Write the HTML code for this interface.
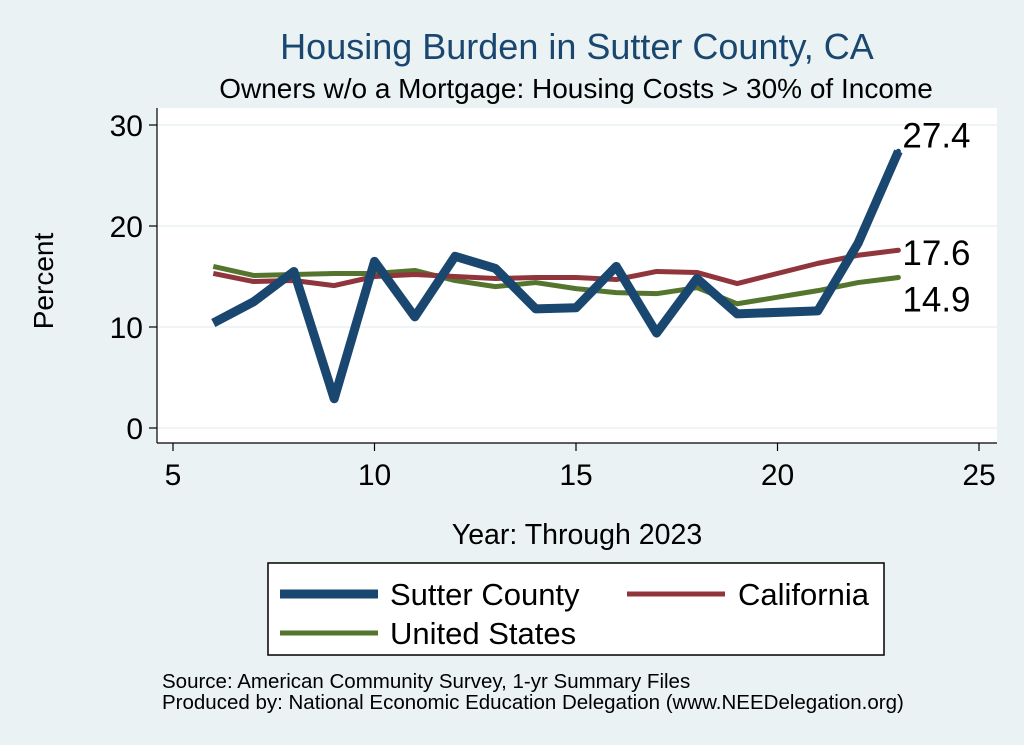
<!DOCTYPE html>
<html><head><meta charset="utf-8"><style>
body{margin:0;background:#eaf2f3;}
svg{display:block;font-family:"Liberation Sans",sans-serif;}
</style></head><body>
<svg width="1024" height="745">
<rect x="0" y="0" width="1024" height="745" fill="#eaf2f3"/>
<rect x="157" y="108" width="840" height="335" fill="#fff"/>
<text x="577" y="59" text-anchor="middle" font-size="36" fill="#1a476f">Housing Burden in Sutter County, CA</text>
<text x="576" y="98" text-anchor="middle" font-size="28" fill="#000">Owners w/o a Mortgage: Housing Costs &gt; 30% of Income</text>
<g id="grid"></g><g id="axes"></g><g id="series"></g>
<text x="53" y="281" text-anchor="middle" font-size="28" transform="rotate(-90 53 281)">Percent</text>
<text x="577" y="544" text-anchor="middle" font-size="28.5">Year: Through 2023</text>
<g>
<rect x="268" y="563" width="616" height="92" fill="#fff" stroke="#000" stroke-width="1.5"/>
<line x1="280" y1="594" x2="378" y2="594" stroke="#1a476f" stroke-width="9"/>
<text x="390" y="605" font-size="31">Sutter County</text>
<line x1="627" y1="594" x2="725" y2="594" stroke="#90353b" stroke-width="5"/>
<text x="738" y="605" font-size="31">California</text>
<line x1="280" y1="633" x2="378" y2="633" stroke="#55752f" stroke-width="5"/>
<text x="390" y="644" font-size="31">United States</text>
</g>
<text x="162" y="688" font-size="20.5">Source: American Community Survey, 1-yr Summary Files</text>
<text x="162" y="709" font-size="20.5">Produced by: National Economic Education Delegation (www.NEEDelegation.org)</text>
</svg>
<script>
const years=[6,7,8,9,10,11,12,13,14,15,16,17,18,19,21,22,23];
const sutter=[10.4,12.5,15.5,2.9,16.5,11.0,17.0,15.8,11.8,11.9,16.0,9.4,14.8,11.3,11.6,18.3,27.4];
const california=[15.3,14.5,14.6,14.1,15.0,15.2,15.0,14.8,14.9,14.9,14.7,15.5,15.4,14.3,16.3,17.1,17.6];
const us=[16.0,15.1,15.2,15.3,15.3,15.6,14.6,14.0,14.4,13.8,13.4,13.3,13.9,12.3,13.6,14.4,14.9];
const xTicks=[5,10,15,20,25];
const yTicks=[0,10,20,30];
const ns="http://www.w3.org/2000/svg";
const X=v=>173+(v-5)*40.3;
const Y=v=>428-v*10.1;
function mk(t,a,p){const e=document.createElementNS(ns,t);for(const k in a)e.setAttribute(k,a[k]);p.appendChild(e);return e;}
const grid=document.getElementById('grid'),axes=document.getElementById('axes'),ser=document.getElementById('series');
yTicks.forEach(t=>{
 const g=mk('line',{x1:157,x2:997,y1:Y(t),y2:Y(t),stroke:'#eaf2f3','stroke-width':1.5},grid);
 
 
 const k=mk('line',{x1:149,x2:157,y1:Y(t),y2:Y(t),stroke:'#000','stroke-width':1.2},axes);
 
 
 const l=mk('text',{x:143,y:Y(t)+11,'text-anchor':'end','font-size':30},axes);l.textContent=t;
 
 
});
xTicks.forEach(t=>{
 const k=mk('line',{x1:X(t),x2:X(t),y1:443,y2:451,stroke:'#000','stroke-width':1.2},axes);
 
 
 const l=mk('text',{x:X(t),y:485,'text-anchor':'middle','font-size':30},axes);l.textContent=t;
 
 
});
const ya=mk('line',{x1:157,x2:157,y1:108,y2:443,stroke:'#000','stroke-width':1.2},axes);


const xa=mk('line',{x1:157,x2:997,y1:443,y2:443,stroke:'#000','stroke-width':1.2},axes);


function line(vals,col,w,name,dy){
 const p=mk('polyline',{points:years.map((y,i)=>X(y)+','+Y(vals[i])).join(' '),fill:'none',stroke:col,'stroke-width':w,'stroke-linejoin':'round'},ser);
 
 
 const n=vals.length-1;
 mk('circle',{cx:X(years[n]),cy:Y(vals[n]),r:2.5,fill:col},ser);
 const t=mk('text',{x:X(years[n])+4,y:Y(vals[n])+dy,'font-size':35},ser);t.textContent=vals[n].toFixed(1);
 
 
}
line(us,'#55752f',5,'us-line',34);
line(california,'#90353b',5,'california-line',15);
line(sutter,'#1a476f',9,'sutter-line',-4);
</script>
</body></html>
